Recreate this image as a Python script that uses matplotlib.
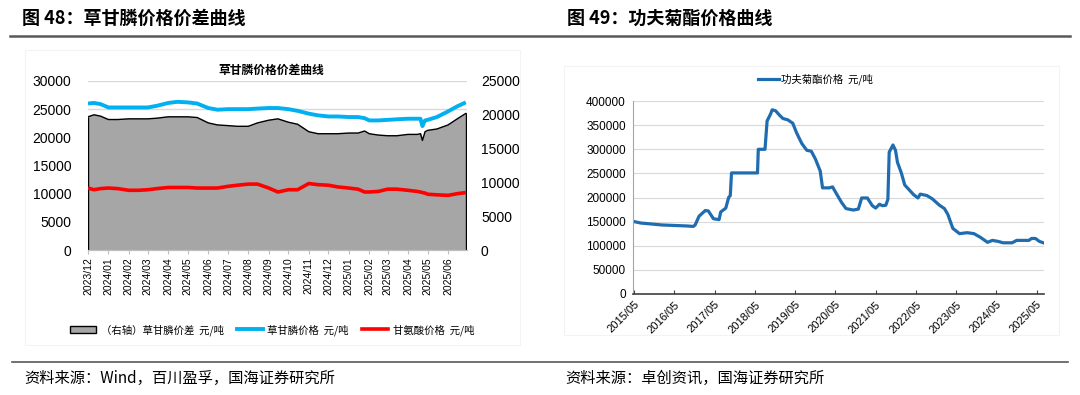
import matplotlib
matplotlib.use("Agg")
import matplotlib.pyplot as plt
import matplotlib.dates as mdates
import pandas as pd
from matplotlib.patches import Rectangle
from matplotlib.lines import Line2D


plt.rcParams["font.family"] = ["Liberation Sans", "Noto Sans CJK SC", "DejaVu Sans"]
CJK = ["Noto Sans CJK SC", "DejaVu Sans"]

# ---- Figure 48: glyphosate price / spread ----
gly_dates = [
    "2023-12-01", "2023-12-10", "2023-12-20", "2024-01-01", "2024-01-15",
    "2024-02-01", "2024-02-15", "2024-03-01", "2024-03-15", "2024-04-01",
    "2024-04-15", "2024-05-01", "2024-05-15", "2024-06-01", "2024-06-15",
    "2024-07-01", "2024-07-15", "2024-08-01", "2024-08-15", "2024-09-01",
    "2024-09-15", "2024-10-01", "2024-10-15", "2024-11-01", "2024-11-15",
    "2024-12-01", "2024-12-15", "2025-01-01", "2025-01-15", "2025-01-25",
    "2025-02-01", "2025-02-15", "2025-03-01", "2025-03-15", "2025-04-01",
    "2025-04-15", "2025-04-20", "2025-04-23", "2025-04-27", "2025-05-01",
    "2025-05-15", "2025-06-01", "2025-06-15", "2025-06-28",
]
gly_price = [
    26000, 26100, 25900, 25300, 25300, 25300, 25300, 25300, 25600, 26100,
    26300, 26200, 26000, 25200, 24900, 25000, 25000, 25000, 25100, 25200,
    25200, 25000, 24700, 24200, 23900, 23700, 23700, 23600, 23600, 23400,
    23000, 23000, 23100, 23200, 23300, 23300, 23300, 22000, 23000, 23100,
    23600, 24600, 25500, 26200,
]
gly_spread = [
    19700, 20000, 19800, 19300, 19300, 19400, 19400, 19400, 19500, 19700,
    19700, 19700, 19600, 18800, 18500, 18400, 18300, 18300, 18800, 19200,
    19400, 18900, 18600, 17500, 17200, 17200, 17200, 17300, 17300, 17600,
    17200, 17000, 16900, 16900, 17100, 17100, 17200, 16200, 17500, 17700,
    17900, 18500, 19400, 20200,
]
glycine_price = [
    11000, 10700, 10900, 11000, 10900, 10600, 10600, 10700, 10900, 11100,
    11100, 11100, 11000, 11000, 11000, 11300, 11500, 11700, 11700, 11000,
    10300, 10700, 10700, 11800, 11600, 11500, 11200, 11000, 10800, 10300,
    10300, 10400, 10800, 10800, 10600, 10400, 10300, 10200, 10100, 9900,
    9800, 9700, 10000, 10200,
]
gly_ticks = pd.date_range("2023-12-01", "2025-06-01", freq="MS")

# ---- Figure 49: lambda-cyhalothrin price ----
lam_dates = [
    "2015-05-01", "2015-07-01", "2016-01-10", "2016-08-15", "2016-10-20",
    "2016-11-05", "2016-12-10", "2017-02-05", "2017-03-05", "2017-04-20",
    "2017-06-10", "2017-06-25", "2017-08-10", "2017-09-05", "2017-09-20",
    "2017-10-01", "2018-05-25", "2018-06-01", "2018-08-01", "2018-08-20",
    "2018-09-20", "2018-10-05", "2018-11-05", "2018-12-10", "2019-01-10",
    "2019-02-25", "2019-04-10", "2019-05-15", "2019-07-01", "2019-08-15",
    "2019-09-25", "2019-11-01", "2019-12-15", "2020-01-05", "2020-03-05",
    "2020-04-05", "2020-05-05", "2020-06-25", "2020-08-05", "2020-10-10",
    "2020-11-25", "2020-12-25", "2021-02-15", "2021-04-01", "2021-05-01",
    "2021-06-05", "2021-07-01", "2021-08-01", "2021-08-20", "2021-09-01",
    "2021-10-05", "2021-10-28", "2021-11-15", "2021-12-20", "2022-01-20",
    "2022-03-05", "2022-04-10", "2022-05-20", "2022-06-10", "2022-08-10",
    "2022-09-28", "2022-12-01", "2023-01-15", "2023-02-15", "2023-04-01",
    "2023-06-01", "2023-08-10", "2023-10-10", "2023-12-10", "2024-02-10",
    "2024-03-25", "2024-05-15", "2024-07-01", "2024-09-20", "2024-11-01",
    "2025-02-20", "2025-03-15", "2025-04-20", "2025-05-25", "2025-07-01",
]
lam_price = [
    150000, 147000, 143000, 141000, 140000, 143000, 161000, 173000, 172000, 156000,
    154000, 170000, 178000, 200000, 204000, 251000, 251000, 300000, 300000, 359000,
    373000, 382000, 380000, 371000, 364000, 361000, 354000, 334000, 312000, 298000,
    296000, 280000, 255000, 220000, 220000, 222000, 210000, 190000, 177000, 174000,
    176000, 199000, 199000, 183000, 178000, 186000, 183000, 184000, 196000, 294000,
    309000, 298000, 273000, 251000, 226000, 215000, 206000, 199000, 207000, 204000,
    197000, 184000, 177000, 165000, 136000, 125000, 127000, 125000, 117000, 107000,
    111000, 109000, 106000, 106000, 111000, 111000, 115000, 115000, 109000, 106000,
]
lam_ticks = pd.date_range("2015-05-01", "2025-05-01", freq="12MS")


def draw_glyphosate(fig):
    x = pd.to_datetime(gly_dates)
    ax = fig.add_axes([0.0815, 0.367, 0.351, 0.428])
    ax2 = ax.twinx()
    ax.set_zorder(ax2.get_zorder() + 1)
    ax.patch.set_visible(False)

    ax2.fill_between(x, gly_spread, color="#a6a6a6", zorder=1)
    ax2.plot(x, gly_spread, color="black", lw=1.0, zorder=2)
    ax2.vlines([x[0], x[-1]], 0, [gly_spread[0], gly_spread[-1]], color="black", lw=1.0)
    ax2.set_ylim(0, 25000)
    ax2.set_yticks(range(0, 25001, 5000))

    ax.plot(x, gly_price, color="#00b0f0", lw=2.8, solid_capstyle="butt")
    ax.plot(x, glycine_price, color="#ff0000", lw=2.6, solid_capstyle="butt")
    ax.set_ylim(0, 30000)
    ax.set_yticks(range(0, 30001, 5000))
    ax.set_xlim(x[0], x[-1] + pd.Timedelta(days=2))

    for y in range(5000, 30001, 5000):
        ax2.axhline(y * 25000 / 30000, color="#d9d9d9", lw=1.0, zorder=0)

    ax.set_xticks(gly_ticks)
    ax.xaxis.set_major_formatter(mdates.DateFormatter("%Y/%m"))
    ax.tick_params(axis="x", rotation=90, labelsize=7.5, length=3, color="#bfbfbf", pad=2)
    ax.tick_params(axis="y", length=0, labelsize=10, pad=12)
    ax2.tick_params(axis="y", length=0, labelsize=10, pad=10)
    for a in (ax, ax2):
        for side in ("top", "left", "right"):
            a.spines[side].set_visible(False)
        a.spines["bottom"].set_color("#bfbfbf")

    fig.text(0.251, 0.823, "草甘膦价格价差曲线", family=CJK, fontsize=8.5,
             fontweight="bold", ha="center", va="center")

    handles = [
        Rectangle((0, 0), 1, 1, facecolor="#a6a6a6", edgecolor="black", lw=1.0),
        Line2D([], [], color="#00b0f0", lw=2.8),
        Line2D([], [], color="#ff0000", lw=2.6),
    ]
    labels = ["（右轴）草甘膦价差  元/吨", "草甘膦价格  元/吨", "甘氨酸价格  元/吨"]
    fig.legend(handles, labels, loc="center", bbox_to_anchor=(0.252, 0.165),
               ncol=3, frameon=False, prop={"family": CJK, "size": 7.5},
               handlelength=2.5, handletextpad=0.4, columnspacing=1.3)


def draw_lambda(fig):
    x = pd.to_datetime(lam_dates)
    ax = fig.add_axes([0.586, 0.256, 0.381, 0.488])
    ax.plot(x, lam_price, color="#1f6db0", lw=2.3, label="功夫菊酯价格  元/吨")
    ax.set_ylim(0, 400000)
    ax.set_yticks(range(0, 400001, 50000))
    ax.set_xlim(pd.Timestamp("2015-04-20"), pd.Timestamp("2025-07-10"))
    ax.grid(axis="y", color="#d9d9d9", lw=0.8)
    ax.set_axisbelow(True)

    ax.set_xticks(lam_ticks)
    ax.xaxis.set_major_formatter(mdates.DateFormatter("%Y/%m"))
    for lab in ax.get_xticklabels():
        lab.set_rotation(45)
        lab.set_ha("right")
        lab.set_rotation_mode("anchor")
    ax.tick_params(axis="x", labelsize=8, direction="in", length=3, color="#404040", pad=4)
    ax.tick_params(axis="y", length=0, labelsize=8.5, pad=5)
    ax.spines["top"].set_visible(False)
    ax.spines["right"].set_visible(False)
    ax.spines["left"].set_color("#a6a6a6")
    ax.spines["bottom"].set_color("#404040")
    ax.spines["bottom"].set_linewidth(1.2)

    fig.legend(loc="center", bbox_to_anchor=(0.755, 0.800), frameon=False,
               prop={"family": CJK, "size": 7.5}, handlelength=2.0, handletextpad=0.2)


def draw_frame(fig):
    # faint chart borders
    fig.add_artist(Rectangle((25 / 1080, 1 - 345 / 395), 495 / 1080, 295 / 395,
                             transform=fig.transFigure, fill=False,
                             edgecolor="#f3f3f3", lw=0.8))
    fig.add_artist(Rectangle((564 / 1080, 1 - 335 / 395), 495 / 1080, 269 / 395,
                             transform=fig.transFigure, fill=False,
                             edgecolor="#f3f3f3", lw=0.8))
    # header and footer rules
    fig.add_artist(Line2D([10 / 1080, 1070 / 1080], [1 - 36 / 395] * 2,
                          transform=fig.transFigure, color="#595959", lw=1.8))
    fig.add_artist(Line2D([12 / 1080, 1068 / 1080], [1 - 362 / 395] * 2,
                          transform=fig.transFigure, color="#595959", lw=1.2))

    fig.text(22 / 1080, 1 - 18 / 395, "图 48：草甘膦价格价差曲线", family=CJK,
             fontsize=13, fontweight="bold", va="center", ha="left")
    fig.text(567 / 1080, 1 - 18 / 395, "图 49：功夫菊酯价格曲线", family=CJK,
             fontsize=13, fontweight="bold", va="center", ha="left")
    fig.text(24 / 1080, 1 - 378 / 395, "资料来源：Wind，百川盈孚，国海证券研究所",
             family=CJK, fontsize=11, va="center", ha="left")
    fig.text(565 / 1080, 1 - 378 / 395, "资料来源：卓创资讯，国海证券研究所",
             family=CJK, fontsize=11, va="center", ha="left")


def main() -> None:
    fig = plt.figure(figsize=(10.8, 3.95), dpi=100)
    draw_glyphosate(fig)
    draw_lambda(fig)
    draw_frame(fig)
    fig.savefig("out.png", dpi=100)
    plt.close(fig)


if __name__ == "__main__":
    main()
